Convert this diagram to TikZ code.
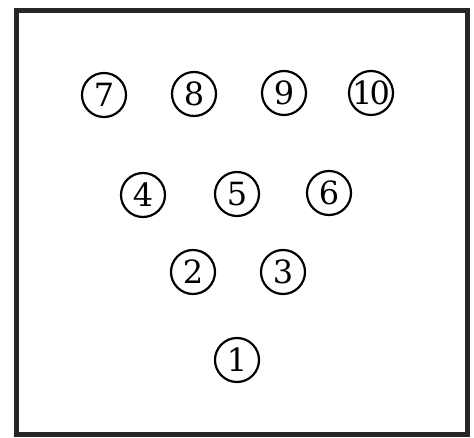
\documentclass[tikz,border=0pt]{standalone}
\usepackage{fontspec}
\newfontfamily\pinfont{DejaVu Serif}
\begin{document}
\begin{tikzpicture}[x=1pt,y=-1pt,
  pin/.style={draw, circle, line width=2.2pt, minimum size=44pt, inner sep=0pt,
    font=\pinfont\fontsize{32}{34}\selectfont}]
\useasboundingbox (0,0) rectangle (474,438);
\draw[line width=5pt, draw=black!85] (16,11) rectangle (467,434);
\node[pin] (p7) at (104,95) {7};
\node[pin] (p8) at (194,94) {8};
\node[pin] (p9) at (284,93) {9};
\node[pin] (p10) at (371,93) {\kern-2pt1\kern-3pt0\kern-2pt};
\node[pin] (p4) at (143,195) {4};
\node[pin] (p5) at (237,194) {5};
\node[pin] (p6) at (329,193) {6};
\node[pin] (p2) at (193,272) {2};
\node[pin] (p3) at (283,272) {3};
\node[pin] (p1) at (237,360) {1};
\end{tikzpicture}
\end{document}
